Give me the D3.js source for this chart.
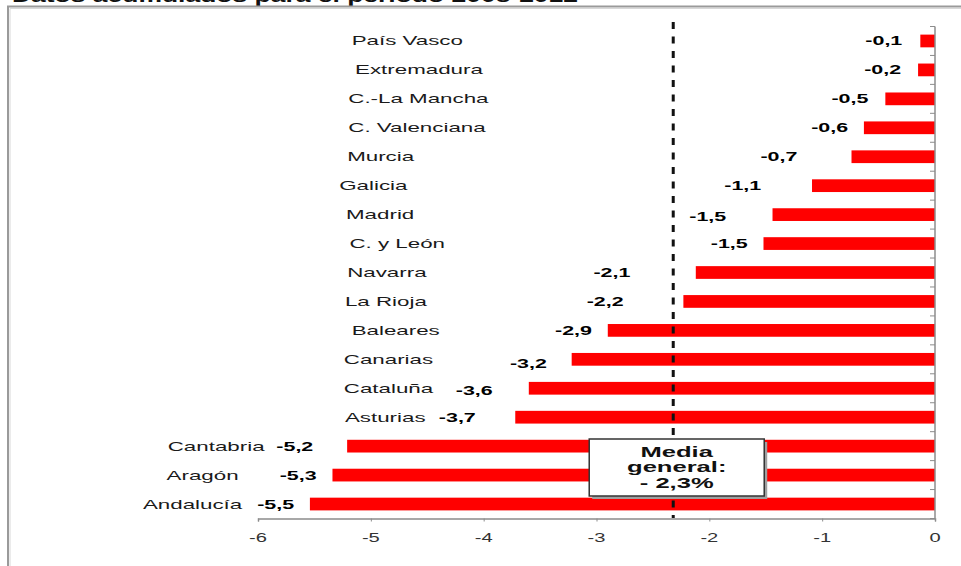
<!DOCTYPE html>
<html>
<head>
<meta charset="utf-8">
<script src="https://cdn.jsdelivr.net/npm/d3@7"></script>
<style>
  html, body { margin: 0; padding: 0; background: #fff; }
  svg { display: block; font-family: Arial, "Liberation Sans", sans-serif; }
</style>
</head>
<body>
<svg id="chart" width="961" height="566"></svg>
<script>
// ---------- data ----------
const titleText = "Datos acumulados para el período 2008-2012";
const categories = ["País Vasco", "Extremadura", "C.-La Mancha", "C. Valenciana", "Murcia", "Galicia",
  "Madrid", "C. y León", "Navarra", "La Rioja", "Baleares", "Canarias", "Cataluña", "Asturias",
  "Cantabria", "Aragón", "Andalucía"];
const values = [-0.13, -0.15, -0.44, -0.63, -0.74, -1.09, -1.44, -1.52, -2.12, -2.23, -2.90, -3.22,
  -3.60, -3.72, -5.21, -5.34, -5.54];
const valueLabels = ["-0,1", "-0,2", "-0,5", "-0,6", "-0,7", "-1,1", "-1,5", "-1,5", "-2,1", "-2,2",
  "-2,9", "-3,2", "-3,6", "-3,7", "-5,2", "-5,3", "-5,5"];
const xTicks = [-6, -5, -4, -3, -2, -1, 0];
const meanValue = -2.32;
const meanLines = ["Media", "general:", "- 2,3%"];

// ---------- label layout (axis units, fed through the x scale) ----------
const catLabelAt = [-5.17, -5.14, -5.20, -5.20, -5.21, -5.28, -5.22, -5.19, -5.21, -5.23, -5.17,
  -5.24, -5.24, -5.23, -6.80, -6.81, -7.02];
const valueLabelAt = [-0.29, -0.30, -0.59, -0.77, -1.22, -1.54, -1.85, -1.66, -2.70, -2.76, -3.04,
  -3.44, -3.92, -4.07, -5.51, -5.48, -5.68];
const valueLabelDy = [0, 0, 0, 0, 0, 0, 2, 0, 0, 0, 0, 4, 2, 0, 0, 0, 0];

// ---------- drawing ----------
const svg = d3.select("#chart");
const SX = 1.7; // horizontal glyph stretch of the source image

const x = d3.scaleLinear().domain([-6, 0]).range([258, 935]);
const y = d3.scaleBand().domain(categories).range([26.5, 518.5]).paddingInner(0.56).paddingOuter(0.28);

function stretchedText(parent, px, py, str, opts) {
  const g = parent.append("g").attr("transform", `translate(${px},${py}) scale(${opts.sx || SX},1)`);
  return g.append("text")
    .attr("x", 0).attr("y", 0)
    .attr("text-anchor", opts.anchor || "start")
    .attr("font-size", opts.size || 13)
    .attr("font-weight", opts.weight || "normal")
    .attr("fill", opts.fill || "#000")
    .text(str);
}

// title (cut off by the top of the picture)
svg.append("text")
  .attr("x", 12).attr("y", 1.5)
  .attr("font-size", 18).attr("font-weight", "bold").attr("fill", "#111")
  .attr("textLength", 566).attr("lengthAdjust", "spacingAndGlyphs")
  .text(titleText);

// frame
svg.append("path").attr("d", "M8,566 V6.5 H961").attr("fill", "none")
  .attr("stroke", "#9a9a9a").attr("stroke-width", 2);
svg.append("path").attr("d", "M10,566 V8.5 H961").attr("fill", "none")
  .attr("stroke", "#d8d8d8").attr("stroke-width", 1);

// bars
svg.append("g").selectAll("rect").data(categories).join("rect")
  .attr("x", (d, i) => x(values[i]))
  .attr("y", d => y(d))
  .attr("width", (d, i) => x(0) - x(values[i]))
  .attr("height", y.bandwidth())
  .attr("fill", "#ff0000");

// x axis
const xAxis = svg.append("g").attr("transform", `translate(0,${518.5})`)
  .call(d3.axisBottom(x).tickValues(xTicks).tickSize(3).tickFormat(""));
xAxis.select(".domain").attr("stroke", "#8c8c8c").attr("stroke-width", 1.5);
xAxis.selectAll(".tick line").attr("stroke", "#8c8c8c");
const tickG = svg.append("g");
xTicks.forEach(t => {
  stretchedText(tickG, x(t), 542, String(t), { anchor: "middle", size: 13, fill: "#333", sx: 1.55 });
});

// y axis line with ticks at band boundaries
const step = y.step();
const bounds = d3.range(categories.length + 1).map(k => y(categories[0]) - (step - y.bandwidth()) / 2 + k * step);
svg.append("line").attr("x1", x(0)).attr("x2", x(0)).attr("y1", bounds[0]).attr("y2", 518.5)
  .attr("stroke", "#8c8c8c").attr("stroke-width", 1.5);
svg.append("g").selectAll("line").data(bounds).join("line")
  .attr("x1", x(0) - 5).attr("x2", x(0)).attr("y1", d => d).attr("y2", d => d)
  .attr("stroke", "#8c8c8c").attr("stroke-width", 1);

// mean dashed line
svg.append("line")
  .attr("x1", x(meanValue)).attr("x2", x(meanValue))
  .attr("y1", 22).attr("y2", 518)
  .attr("stroke", "#111").attr("stroke-width", 3)
  .attr("stroke-dasharray", "7,7.5");

// category labels
const catG = svg.append("g");
categories.forEach((c, i) => {
  stretchedText(catG, x(catLabelAt[i]), y(c) + y.bandwidth() / 2 + 4.5, c,
    { size: 13, fill: "#1a1a1a", sx: 1.72 });
});

// value labels
const valG = svg.append("g");
categories.forEach((c, i) => {
  stretchedText(valG, x(valueLabelAt[i]), y(c) + y.bandwidth() / 2 + 4.5 + valueLabelDy[i], valueLabels[i],
    { anchor: "end", size: 13, weight: "bold", fill: "#000", sx: 1.65 });
});

// mean box
const bx = x(meanValue) - 84, by = 439, bw = 175, bh = 57;
svg.append("rect").attr("x", bx + 3).attr("y", by + 3).attr("width", bw).attr("height", bh).attr("fill", "#a0a0a0");
svg.append("rect").attr("x", bx).attr("y", by).attr("width", bw).attr("height", bh)
  .attr("fill", "#fff").attr("stroke", "#333").attr("stroke-width", 1.5);
const boxG = svg.append("g");
meanLines.forEach((t, i) => {
  stretchedText(boxG, bx + bw / 2, 456.5 + i * 15.5, t,
    { anchor: "middle", size: 15.5, weight: "bold", fill: "#111", sx: 1.65 });
});
</script>
</body>
</html>
